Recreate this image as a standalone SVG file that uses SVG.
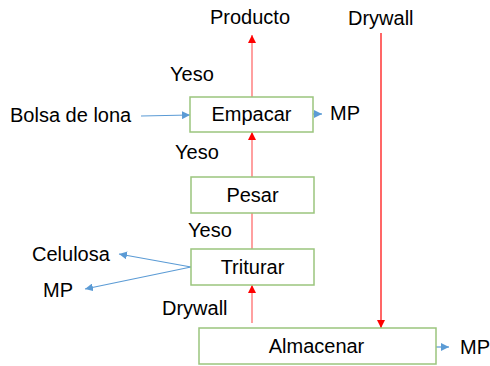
<svg xmlns="http://www.w3.org/2000/svg" width="490" height="366" viewBox="0 0 490 366">
<style>
text{font-family:"Liberation Sans",Arial,sans-serif;font-size:20px;fill:#000}
.box rect{fill:#fff;stroke:#9bc57d;stroke-width:1.5}
.c{text-anchor:middle}
.red{stroke:#f00;stroke-width:1.2;fill:none}
.pink{stroke:#ff8080;stroke-width:1.5;fill:none}
.blue{stroke:#5b9bd5;stroke-width:1.2;fill:none}
</style>
<defs>
<marker id="ar" markerWidth="8" markerHeight="8" viewBox="0 0 8 8" refX="8" refY="4" orient="auto" markerUnits="userSpaceOnUse"><path d="M0,0 L8,4 L0,8 z" fill="#f00"/></marker>
<marker id="ab" markerWidth="8" markerHeight="8" viewBox="0 0 8 8" refX="8" refY="4" orient="auto" markerUnits="userSpaceOnUse"><path d="M0,0 L8,4 L0,8 z" fill="#5b9bd5"/></marker>
</defs>
<g id="connectors">
<line class="pink" x1="252" y1="97" x2="252" y2="35" marker-end="url(#ar)"/>
<line class="pink" x1="252" y1="177" x2="252" y2="132" marker-end="url(#ar)"/>
<line class="pink" x1="252" y1="249" x2="252" y2="213"/>
<line class="pink" x1="252" y1="323" x2="252" y2="285" marker-end="url(#ar)"/>
<line class="red" x1="381" y1="33" x2="381" y2="328" marker-end="url(#ar)"/>
<line class="blue" x1="141" y1="116" x2="190" y2="115" marker-end="url(#ab)"/>
<line class="blue" x1="313" y1="114" x2="322" y2="114" marker-end="url(#ab)"/>
<line class="blue" x1="436" y1="347" x2="449" y2="347" marker-end="url(#ab)"/>
<line class="blue" x1="191" y1="267" x2="119" y2="254" marker-end="url(#ab)"/>
<line class="blue" x1="191" y1="267" x2="85" y2="289" marker-end="url(#ab)"/>
</g>
<g id="empacar" class="box"><rect x="190" y="97" width="123" height="35"/><text class="c" x="251.5" y="121">Empacar</text></g>
<g id="pesar" class="box"><rect x="191" y="177" width="123" height="36"/><text class="c" x="252.5" y="202">Pesar</text></g>
<g id="triturar" class="box"><rect x="191" y="249" width="123" height="36"/><text class="c" x="252.5" y="274">Triturar</text></g>
<g id="almacenar" class="box"><rect x="199" y="328" width="237" height="36"/><text class="c" x="316.5" y="353">Almacenar</text></g>
<g id="labels">
<text class="c" x="250" y="24">Producto</text>
<text x="348" y="25">Drywall</text>
<text x="170" y="81">Yeso</text>
<text x="175" y="159">Yeso</text>
<text x="188" y="237">Yeso</text>
<text x="162" y="315">Drywall</text>
<text x="10" y="122">Bolsa de lona</text>
<text x="330" y="120">MP</text>
<text x="32" y="261">Celulosa</text>
<text x="43" y="297">MP</text>
<text x="460" y="354">MP</text>
</g>
</svg>
